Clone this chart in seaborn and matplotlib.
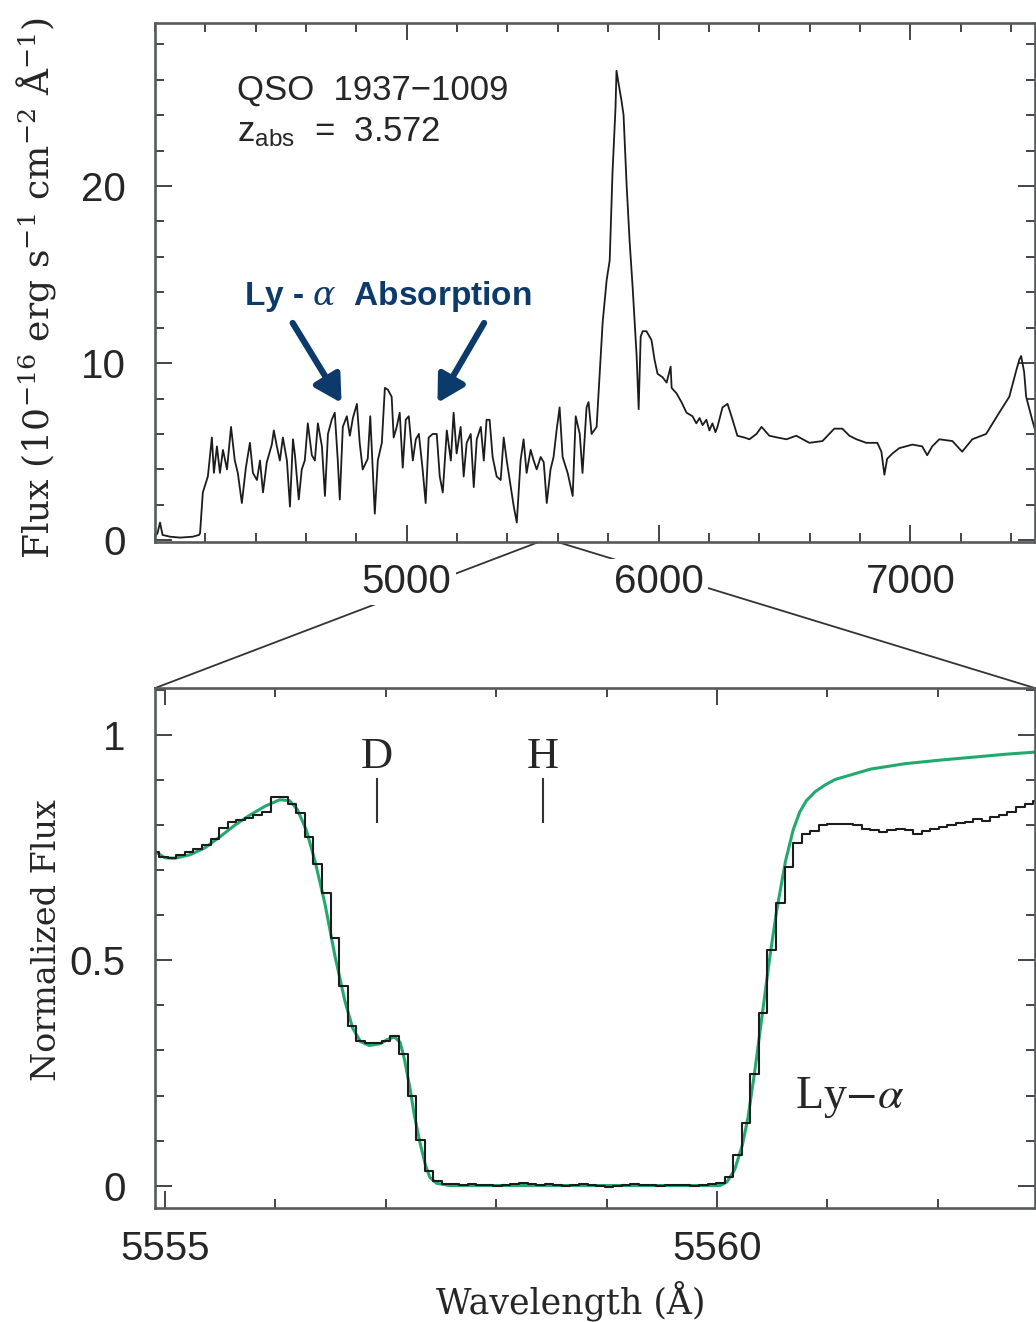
import numpy as np
import matplotlib
matplotlib.use("Agg")
import matplotlib.pyplot as plt
import seaborn as sns
from matplotlib.patches import ConnectionPatch
from matplotlib.ticker import MultipleLocator

# ---------------- data: full QSO spectrum (top panel) ----------------
wave_top = [
    4000, 4010, 4020, 4030, 4060, 4100, 4150, 4175, 4179, 4190,
    4210, 4226, 4234, 4246, 4258, 4270, 4286, 4302, 4317, 4329,
    4345, 4361, 4377, 4389, 4405, 4417, 4429, 4444, 4464, 4472,
    4484, 4496, 4508, 4524, 4536, 4548, 4556, 4571, 4583, 4595,
    4607, 4623, 4635, 4647, 4663, 4675, 4687, 4702, 4714, 4726,
    4734, 4746, 4762, 4774, 4786, 4802, 4813, 4825, 4845, 4855,
    4865, 4873, 4885, 4901, 4913, 4925, 4940, 4948, 4960, 4972,
    4984, 4996, 5008, 5024, 5036, 5048, 5063, 5075, 5087, 5103,
    5119, 5131, 5143, 5159, 5175, 5186, 5198, 5214, 5226, 5238,
    5254, 5266, 5278, 5294, 5306, 5317, 5329, 5341, 5357, 5373,
    5385, 5397, 5413, 5425, 5437, 5452, 5464, 5476, 5492, 5504,
    5516, 5532, 5544, 5556, 5571, 5583, 5595, 5607, 5619, 5639,
    5659, 5671, 5687, 5698, 5714, 5722, 5734, 5754, 5766, 5778,
    5794, 5806, 5817, 5829, 5833, 5841, 5853, 5861, 5873, 5885,
    5897, 5909, 5913, 5921, 5929, 5937, 5952, 5972, 5984, 5996,
    6016, 6032, 6048, 6052, 6071, 6091, 6111, 6135, 6150, 6163,
    6175, 6190, 6202, 6214, 6226, 6234, 6254, 6274, 6294, 6313,
    6341, 6361, 6389, 6409, 6440, 6472, 6508, 6547, 6599, 6651,
    6698, 6730, 6758, 6786, 6825, 6869, 6885, 6897, 6908, 6929,
    6956, 7008, 7047, 7067, 7087, 7115, 7167, 7206, 7246, 7301,
    7353, 7393, 7421, 7433, 7440, 7452, 7460, 7484, 7500,
]
flux_top = [
    0.2, 0.4, 1.0, 0.3, 0.2, 0.15, 0.2, 0.3, 0.4, 2.7,
    3.6, 5.8, 3.8, 5.3, 3.8, 5.1, 4.0, 6.4, 4.5, 3.8,
    2.1, 4.1, 5.5, 3.8, 3.4, 4.5, 2.7, 4.4, 5.4, 6.2,
    5.3, 4.5, 5.8, 4.5, 1.9, 5.7, 4.8, 2.3, 4.0, 4.5,
    6.6, 4.8, 4.5, 6.6, 5.3, 2.5, 6.0, 6.8, 7.2, 4.5,
    2.3, 6.4, 7.0, 5.9, 6.9, 7.7, 5.5, 4.0, 4.6, 7.0,
    4.0, 1.5, 4.5, 5.5, 8.6, 8.5, 8.1, 5.8, 6.4, 7.2,
    4.1, 6.8, 7.0, 4.5, 5.7, 6.0, 4.0, 2.1, 5.8, 6.0,
    6.0, 3.6, 2.7, 6.2, 4.5, 7.2, 4.9, 6.4, 3.6, 5.5,
    6.0, 3.0, 5.7, 6.4, 4.5, 6.8, 6.8, 4.7, 3.6, 3.4,
    5.8, 4.5, 3.0, 1.9, 1.0, 4.5, 5.7, 3.8, 5.1, 4.5,
    4.0, 4.7, 4.4, 2.1, 4.0, 4.7, 6.2, 7.5, 4.7, 3.8,
    2.5, 7.0, 6.0, 3.8, 7.5, 7.8, 6.0, 6.4, 9.4, 12.3,
    14.7, 15.8, 20.7, 24.4, 26.5, 25.8, 24.8, 24.0, 20.1, 16.9,
    14.3, 11.3, 10.4, 7.4, 11.5, 11.8, 11.8, 11.3, 10.2, 9.4,
    9.2, 8.9, 9.8, 8.6, 8.3, 7.8, 7.2, 7.0, 6.6, 6.9,
    6.5, 6.8, 6.2, 6.6, 6.1, 6.4, 7.5, 7.7, 6.8, 5.9,
    5.8, 5.7, 6.0, 6.4, 5.9, 5.8, 5.7, 5.9, 5.5, 5.6,
    6.3, 6.3, 5.9, 5.7, 5.5, 5.5, 5.0, 3.7, 4.6, 4.9,
    5.2, 5.4, 5.3, 4.8, 5.3, 5.7, 5.6, 5.0, 5.7, 6.0,
    7.2, 8.1, 9.6, 10.2, 10.4, 9.5, 8.1, 6.8, 6.0,
]

# ---------------- data: normalized Ly-alpha absorber (bottom panel) ----------------
pixel_first = 5554.909      # centre of first pixel (Angstrom)
pixel_width = 0.0776        # pixel size (Angstrom)
flux_norm = [
    0.740, 0.730, 0.728, 0.735, 0.740, 0.748, 0.756, 0.770, 0.794, 0.808,
    0.812, 0.816, 0.824, 0.830, 0.862, 0.862, 0.848, 0.828, 0.775, 0.715,
    0.650, 0.550, 0.443, 0.354, 0.321, 0.316, 0.316, 0.322, 0.332, 0.292,
    0.200, 0.101, 0.033, 0.011, 0.004, 0.003, 0.002, 0.003, 0.001, 0.002,
    0.000, 0.002, 0.004, 0.006, 0.004, 0.002, 0.003, 0.001, 0.000, 0.002,
    0.003, 0.001, -0.002, -0.003, 0.000, 0.002, 0.003, 0.002, 0.001, 0.000,
    0.001, 0.002, 0.001, 0.000, 0.001, 0.003, 0.006, 0.019, 0.068, 0.139,
    0.248, 0.383, 0.523, 0.628, 0.707, 0.760, 0.782, 0.787, 0.800, 0.804,
    0.804, 0.804, 0.800, 0.793, 0.790, 0.786, 0.790, 0.793, 0.790, 0.780,
    0.788, 0.793, 0.797, 0.800, 0.805, 0.808, 0.815, 0.810, 0.818, 0.824,
    0.830, 0.840, 0.848, 0.855,
]
wave_norm = pixel_first + pixel_width * np.arange(len(flux_norm))

model_wave = [
    5554.91, 5555.00, 5555.09, 5555.23, 5555.36, 5555.50, 5555.63, 5555.77, 5555.91, 5556.04,
    5556.13, 5556.20, 5556.28, 5556.36, 5556.45, 5556.54, 5556.63, 5556.70, 5556.77, 5556.85,
    5556.95, 5557.02, 5557.08, 5557.13, 5557.17, 5557.22, 5557.26, 5557.31, 5557.36, 5557.40,
    5557.46, 5557.58, 5558.00, 5558.50, 5559.00, 5559.50, 5560.03, 5560.09, 5560.16, 5560.23,
    5560.28, 5560.34, 5560.41, 5560.48, 5560.54, 5560.62, 5560.69, 5560.75, 5560.81, 5560.89,
    5560.98, 5561.07, 5561.39, 5561.70, 5562.02, 5562.34, 5562.61, 5562.89,
]
model_flux = [
    0.742, 0.728, 0.727, 0.735, 0.750, 0.775, 0.800, 0.823, 0.843, 0.857,
    0.855, 0.835, 0.790, 0.720, 0.625, 0.510, 0.410, 0.350, 0.320, 0.311,
    0.315, 0.325, 0.330, 0.318, 0.280, 0.215, 0.155, 0.095, 0.045, 0.018,
    0.005, 0.000, 0.000, 0.000, 0.000, 0.000, 0.000, 0.008, 0.035, 0.090,
    0.150, 0.250, 0.380, 0.510, 0.610, 0.720, 0.790, 0.830, 0.855, 0.875,
    0.890, 0.902, 0.925, 0.937, 0.945, 0.952, 0.958, 0.963,
]

line_names = ["D", "H"]
line_waves = [5556.92, 5558.42]
zoom_marks = [5524, 5599]   # where the zoom connectors leave the top panel

# ---------------- style ----------------
sns.set_theme(style="ticks")
plt.rcParams["font.family"] = ["Liberation Sans", "DejaVu Sans"]
plt.rcParams["mathtext.fontset"] = "dejavuserif"

NAVY = "#0c3a6b"
SPINE = "#555a5a"
INK = "#1c1c1c"

fig = plt.figure(figsize=(10.36, 13.22), dpi=100, facecolor="white")
ax1 = fig.add_axes([0.1496, 0.590, 0.8494, 0.3926])
ax2 = fig.add_axes([0.1496, 0.0862, 0.8494, 0.3933])

# ---------------- top panel ----------------
sns.lineplot(x=wave_top, y=flux_top, ax=ax1, color=INK, lw=1.3,
             estimator=None, sort=False)

# ---------------- bottom panel ----------------
sns.lineplot(x=model_wave, y=model_flux, ax=ax2, color="#22aa6e", lw=2.2,
             estimator=None)
sns.lineplot(x=wave_norm, y=flux_norm, ax=ax2, color=INK, lw=1.5,
             estimator=None, drawstyle="steps-mid")


def style(ax, ylab_pad, xlab_pad):
    for s in ax.spines.values():
        s.set_linewidth(1.9)
        s.set_color(SPINE)
        s.set_visible(True)
    ax.tick_params(which="both", direction="in", top=True, right=True,
                   color="#444444", width=1.4, labelsize=29,
                   labelcolor="#262626")
    ax.tick_params(which="major", length=12.5)
    ax.tick_params(which="minor", length=6.5)
    ax.tick_params(axis="y", which="major", pad=ylab_pad)
    ax.tick_params(axis="x", which="major", pad=xlab_pad)
    ax.set_facecolor("white")


ax1.set_xlim(4000, 7495)
ax1.set_ylim(-0.1, 29.2)
ax1.set_xticks([5000, 6000, 7000])
ax1.set_xticklabels(["5000", "6000", "7000"])
ax1.xaxis.set_minor_locator(MultipleLocator(200))
ax1.set_yticks([0, 10, 20])
ax1.set_yticklabels(["0", "10", "20"])
ax1.yaxis.set_minor_locator(MultipleLocator(2))
style(ax1, 21, 15)
ax1.set_xlabel("")
ax1.set_ylabel(r"Flux (10$^{-16}$ erg s$^{-1}$ cm$^{-2}$ Å$^{-1}$)",
               fontsize=26, family="DejaVu Serif", color="#262626")
ax1.yaxis.set_label_coords(-0.110, 0.49)
for t in ax1.xaxis.get_major_ticks():
    t.label1.set_bbox(dict(facecolor="white", edgecolor="none", pad=3))

ax1.text(0.093, 0.871, "QSO  1937\u22121009", transform=ax1.transAxes,
         fontsize=25, ha="left", va="center", color="#262626")
ax1.text(0.093, 0.790, r"z$_\mathregular{abs}$  =  3.572", transform=ax1.transAxes,
         fontsize=25, ha="left", va="center", color="#262626")

ax1.text(0.265, 0.474, r"Ly - $\alpha$  Absorption", transform=ax1.transAxes,
         fontsize=24, fontweight="bold", ha="center", va="center", color=NAVY)
arrow_kw = dict(arrowstyle="-|>,head_length=0.8,head_width=0.45", lw=4.5,
                color=NAVY, mutation_scale=20, shrinkA=0, shrinkB=0)
ax1.annotate("", xy=(0.212, 0.268), xytext=(0.1565, 0.422),
             xycoords="axes fraction", textcoords="axes fraction",
             arrowprops=arrow_kw)
ax1.annotate("", xy=(0.321, 0.268), xytext=(0.374, 0.422),
             xycoords="axes fraction", textcoords="axes fraction",
             arrowprops=arrow_kw)

ax2.set_xlim(5554.91, 5562.88)
ax2.set_ylim(-0.05, 1.105)
ax2.set_xticks([5555, 5560])
ax2.set_xticklabels(["5555", "5560"])
ax2.xaxis.set_minor_locator(MultipleLocator(1))
ax2.set_yticks([0, 0.5, 1])
ax2.set_yticklabels(["0", "0.5", "1"])
ax2.yaxis.set_minor_locator(MultipleLocator(0.1))
style(ax2, 21, 16)
ax2.set_xlabel("Wavelength (Å)", fontsize=25, family="DejaVu Serif", color="#262626")
ax2.xaxis.set_label_coords(0.472, -0.140)
ax2.set_ylabel("Normalized Flux", fontsize=24, family="DejaVu Serif", color="#262626")
ax2.yaxis.set_label_coords(-0.105, 0.515)

for name, w in zip(line_names, line_waves):
    ax2.text(w, 0.953, name, ha="center", va="center", fontsize=32,
             family="Liberation Serif", color="#262626")
ax2.vlines(line_waves, 0.806, 0.906, color="#333333", lw=1.5)

ax2.text(5560.71, 0.196, r"Ly$-\alpha$", ha="left", va="center", fontsize=33,
         family="Liberation Serif", math_fontfamily="stix", color="#262626")

# ---------------- zoom connectors ----------------
for xa, xb in zip(zoom_marks, [0, 1]):
    con = ConnectionPatch(xyA=(xa, 0), coordsA=ax1.get_xaxis_transform(),
                          xyB=(xb, 1), coordsB=ax2.transAxes,
                          color="#333333", lw=1.3, zorder=-1)
    fig.add_artist(con)

fig.savefig("out.png", dpi=100, facecolor="white")
